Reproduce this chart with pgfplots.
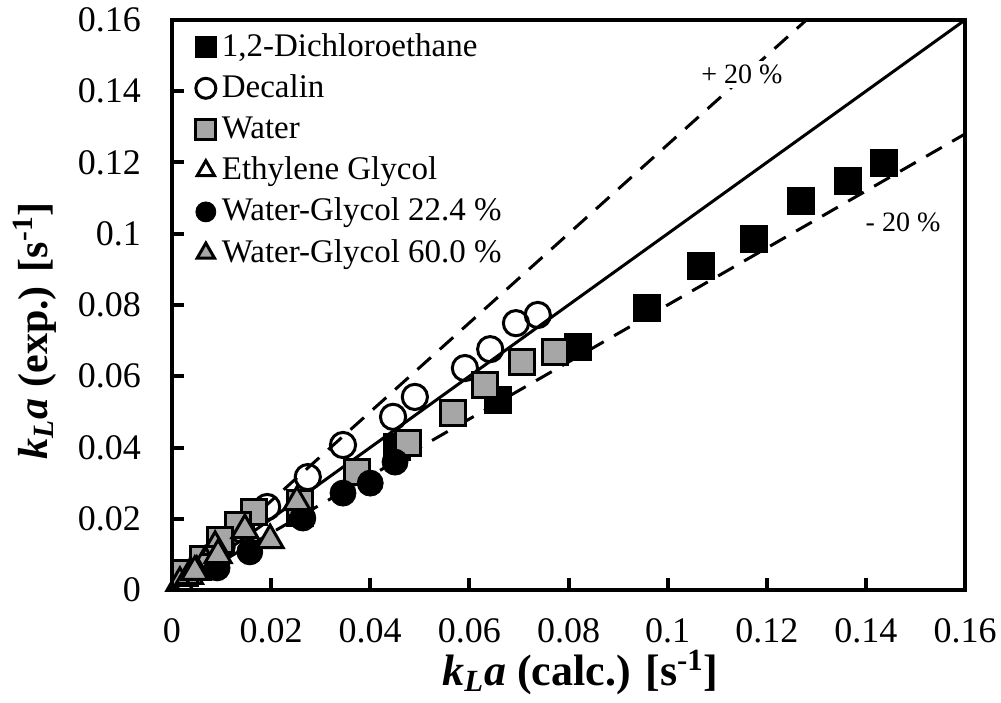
\documentclass[border=0pt]{standalone}
\usepackage{fontspec}
\setmainfont{Liberation Serif}
\usepackage{pgfplots}
\pgfplotsset{compat=1.18}
\definecolor{mgray}{HTML}{A6A6A6}
\begin{document}
\begin{tikzpicture}
\begin{axis}[
  at={(0,0)}, anchor=south west,
  scale only axis, width=396.5pt, height=285pt,
  xmin=0, xmax=0.16, ymin=0, ymax=0.16,
  axis line style={line width=2.2pt},
  xtick={0,0.02,0.04,0.06,0.08,0.1,0.12,0.14,0.16},
  xticklabels={0,0.02,0.04,0.06,0.08,0.1,0.12,0.14,0.16},
  ytick={0,0.02,0.04,0.06,0.08,0.1,0.12,0.14,0.16},
  yticklabels={0,0.02,0.04,0.06,0.08,0.1,0.12,0.14,0.16},
  tick align=inside, xtick pos=lower, ytick pos=left,
  major tick length=6pt, tick style={line width=2pt, black},
  ticklabel style={font=\fontsize{18}{18}\selectfont},
  xticklabel shift=10.5pt, yticklabel shift=12pt,
  xlabel={\textit{k}\textsubscript{\textit{L}}\textit{a} (calc.) [s\textsuperscript{-1}]},
  ylabel={\textit{k}\textsubscript{\textit{L}}\textit{a} (exp.) [s\textsuperscript{-1}]},
  xlabel style={font=\bfseries\fontsize{22}{22}\selectfont, at={(axis description cs:0.515,-0.144)}, anchor=center},
  ylabel style={font=\bfseries\fontsize{21}{21}\selectfont, at={(axis description cs:-0.173,0.455)}, anchor=center},
  legend style={at={(axis description cs:0.022,0.99)}, anchor=north west,
    draw=none, fill=none, font=\fontsize{16.5}{16.5}\selectfont,
    nodes={inner sep=0pt, text height=13pt, text depth=4pt},
    row sep=3.6pt,
    /tikz/every odd column/.append style={column sep=3pt}},
  legend cell align=left,
  legend image code/.code={\draw[#1, mark size=5pt] plot coordinates {(0pt,0pt)};},
  clip=false,
]
\addplot[only marks, mark=square*, mark size=6.5pt, draw=black, fill=black, line width=1.2pt] coordinates {
(0.1437,0.1199) (0.1364,0.1148) (0.1269,0.1092) (0.1174,0.0985) (0.1067,0.0909)
(0.0958,0.0792) (0.0819,0.0682) (0.0658,0.0533) (0.0454,0.0401) (0.0258,0.0216)
};
\addlegendentry{1,2-Dichloroethane}
\addplot[only marks, mark=o, mark size=6.3pt, draw=black, line width=1.5pt] coordinates {
(0.0738,0.0772) (0.0694,0.0749) (0.0642,0.0676) (0.0591,0.0623) (0.0490,0.0542)
(0.0446,0.0486) (0.0345,0.0407) (0.0274,0.0317) (0.0192,0.0233) (0.0140,0.0170)
(0.0100,0.0120) (0.0060,0.0075)
};
\addlegendentry{Decalin}
\addplot[only marks, mark=square*, mark size=6.3pt, draw=black, fill=mgray, line width=1.5pt] coordinates {
(0.0773,0.0668) (0.0706,0.0640) (0.0632,0.0575) (0.0567,0.0497) (0.0476,0.0413)
(0.0373,0.0331) (0.0258,0.0244) (0.0165,0.0219) (0.0133,0.0182) (0.0097,0.0140)
(0.0063,0.0087) (0.0026,0.0048)
};
\addlegendentry{Water}
\addplot[only marks, mark=triangle, mark size=7.5pt, draw=black, line width=1.5pt] coordinates {
(0.0016,0.0020) (0.0050,0.0051) (0.0067,0.0079) (0.0087,0.0121) (0.0035,0.0040)
};
\addlegendentry{Ethylene Glycol}
\addplot[only marks, mark=*, mark size=6.5pt, draw=black, fill=black] coordinates {
(0.0091,0.0062) (0.0157,0.0107) (0.0264,0.0202) (0.0345,0.0272) (0.0400,0.0300) (0.0450,0.0359)
};
\addlegendentry{Water-Glycol 22.4 \%}
\addplot[only marks, mark=triangle*, mark size=7.5pt, draw=black, fill=mgray, line width=1.5pt] coordinates {
(0.0046,0.0051) (0.0093,0.0098) (0.0147,0.0168) (0.0198,0.0140) (0.0252,0.0247)
};
\addlegendentry{Water-Glycol 60.0 \%}
\addplot[black, line width=1.5pt, forget plot] coordinates {(0,0) (0.16,0.16)};
\addplot[black, line width=1.5pt, dash pattern=on 9pt off 6pt, forget plot] coordinates {(0,0) (0.128,0.16)};
\addplot[black, line width=1.5pt, dash pattern=on 9pt off 6pt, forget plot] coordinates {(0,0) (0.16,0.128)};
\coordinate (plus) at (axis cs:0.1150,0.1446);
\coordinate (minus) at (axis cs:0.1475,0.1033);
\end{axis}
\node[font=\fontsize{14}{14}\selectfont, fill=white, inner sep=2pt] at (plus) {+ 20 \%};
\node[font=\fontsize{14}{14}\selectfont, fill=white, inner sep=2pt] at (minus) {- 20 \%};
\pgfresetboundingbox
\path (-86pt,-56pt) rectangle (414.5pt,295pt);
\end{tikzpicture}
\end{document}
